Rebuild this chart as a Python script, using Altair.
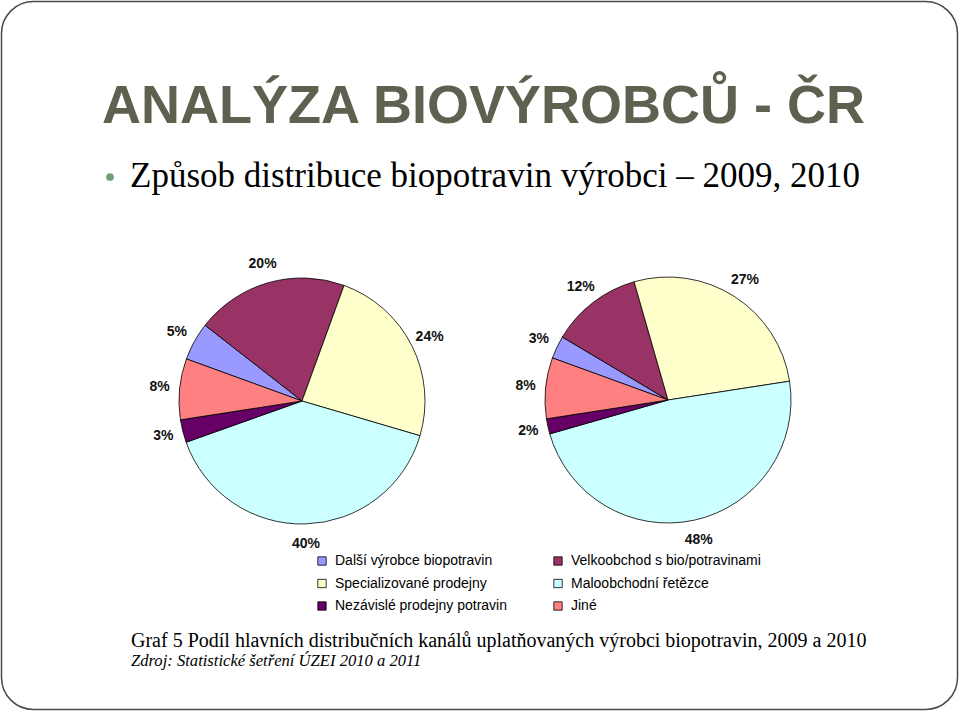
import math
import altair as alt
import pandas as pd

# ---- data ----
categories = [
    "Další výrobce biopotravin",
    "Velkoobchod s bio/potravinami",
    "Specializované prodejny",
    "Maloobchodní řetězce",
    "Nezávislé prodejny potravin",
    "Jiné",
]
colors = ["#9999FF", "#993366", "#FFFFCC", "#CCFFFF", "#660066", "#FF8080"]
shares_2009 = [5, 20, 24, 40, 3, 8]
shares_2010 = [3, 12, 27, 48, 2, 8]
# legend reading order (two columns, filled column by column)
legend_order = [0, 2, 4, 1, 3, 5]

title_text = "ANALÝZA BIOVÝROBCŮ - ČR"
subtitle_text = "Způsob distribuce biopotravin výrobci – 2009, 2010"
caption_text = "Graf 5 Podíl hlavních distribučních kanálů uplatňovaných výrobci biopotravin, 2009 a 2010"
source_text = "Zdroj: Statistické šetření ÚZEI 2010 a 2011"

rows = []
for year, shares in (("2009", shares_2009), ("2010", shares_2010)):
    for i, (c, v) in enumerate(zip(categories, shares)):
        rows.append({"year": year, "kategorie": c, "value": v, "idx": i})
df = pd.DataFrame(rows)

W, H = 960, 712
start = math.radians(290)
theta_scale = alt.Scale(domain=[0, 100], range=[start, start + 2 * math.pi])
color_scale = alt.Scale(domain=[categories[i] for i in legend_order],
                        range=[colors[i] for i in legend_order])

legend = alt.Legend(
    title=None, orient="none", legendX=315, legendY=554, columns=2,
    symbolType="square", symbolSize=70, symbolStrokeColor="black",
    symbolStrokeWidth=0.8, symbolOpacity=1,
    labelFont="Liberation Sans", labelFontSize=14, labelColor="black",
    labelLimit=300, rowPadding=8.5, columnPadding=44, labelOffset=6,
)


def pie(year, cx, cy, with_legend):
    base = alt.Chart(df).transform_filter(alt.datum.year == year)
    arc = base.mark_arc(outerRadius=123, stroke="black", strokeWidth=0.8).encode(
        theta=alt.Theta("value:Q", stack=True, scale=theta_scale),
        color=alt.Color("kategorie:N", scale=color_scale,
                        legend=legend if with_legend else None),
        order=alt.Order("idx:Q", sort="ascending"),
        x=alt.value(cx), y=alt.value(cy),
    )
    txt = base.transform_calculate(label="datum.value + '%'").mark_text(
        radius=143, font="Liberation Sans", fontWeight="bold", fontSize=14,
        color="#111111", align="center", baseline="middle",
    ).encode(
        theta=alt.Theta("value:Q", stack=True, scale=theta_scale),
        order=alt.Order("idx:Q", sort="ascending"),
        text="label:N",
        x=alt.value(cx), y=alt.value(cy),
    )
    return arc + txt


one = pd.DataFrame({"a": [0]})

frame = alt.Chart(one).mark_rect(
    cornerRadius=32, fill="white", stroke="#4a4a4a", strokeWidth=1.5
).encode(x=alt.value(1.5), x2=alt.value(957.5), y=alt.value(1.5), y2=alt.value(709.5))

title = alt.Chart(pd.DataFrame({"t": [title_text]})).mark_text(
    font="Liberation Sans", fontWeight="bold", fontSize=54, color="#606050",
    align="left", baseline="alphabetic",
).encode(x=alt.value(102), y=alt.value(123), text="t:N")

bullet = alt.Chart(one).mark_point(
    shape="circle", filled=True, size=60, color="#6F9F7A", opacity=1
).encode(x=alt.value(110), y=alt.value(177))

subtitle = alt.Chart(pd.DataFrame({"t": [subtitle_text]})).mark_text(
    font="Liberation Serif", fontSize=35, color="black",
    align="left", baseline="alphabetic",
).encode(x=alt.value(130), y=alt.value(187), text="t:N")

caption = alt.Chart(pd.DataFrame({"t": [caption_text]})).mark_text(
    font="Liberation Serif", fontSize=20, color="black",
    align="left", baseline="alphabetic",
).encode(x=alt.value(131), y=alt.value(647), text="t:N")

source = alt.Chart(pd.DataFrame({"t": [source_text]})).mark_text(
    font="Liberation Serif", fontSize=16.6, fontStyle="italic", color="black",
    align="left", baseline="alphabetic",
).encode(x=alt.value(131), y=alt.value(666), text="t:N")

chart = alt.layer(
    frame, title, bullet, subtitle,
    pie("2009", 302, 401, True), pie("2010", 668, 400, False),
    caption, source,
).properties(
    width=W, height=H, padding=0,
    autosize=alt.AutoSizeParams(type="none"),
    background="white",
).configure_view(stroke=None)

chart.save("out.html", embed_options={"renderer": "svg", "actions": False})
